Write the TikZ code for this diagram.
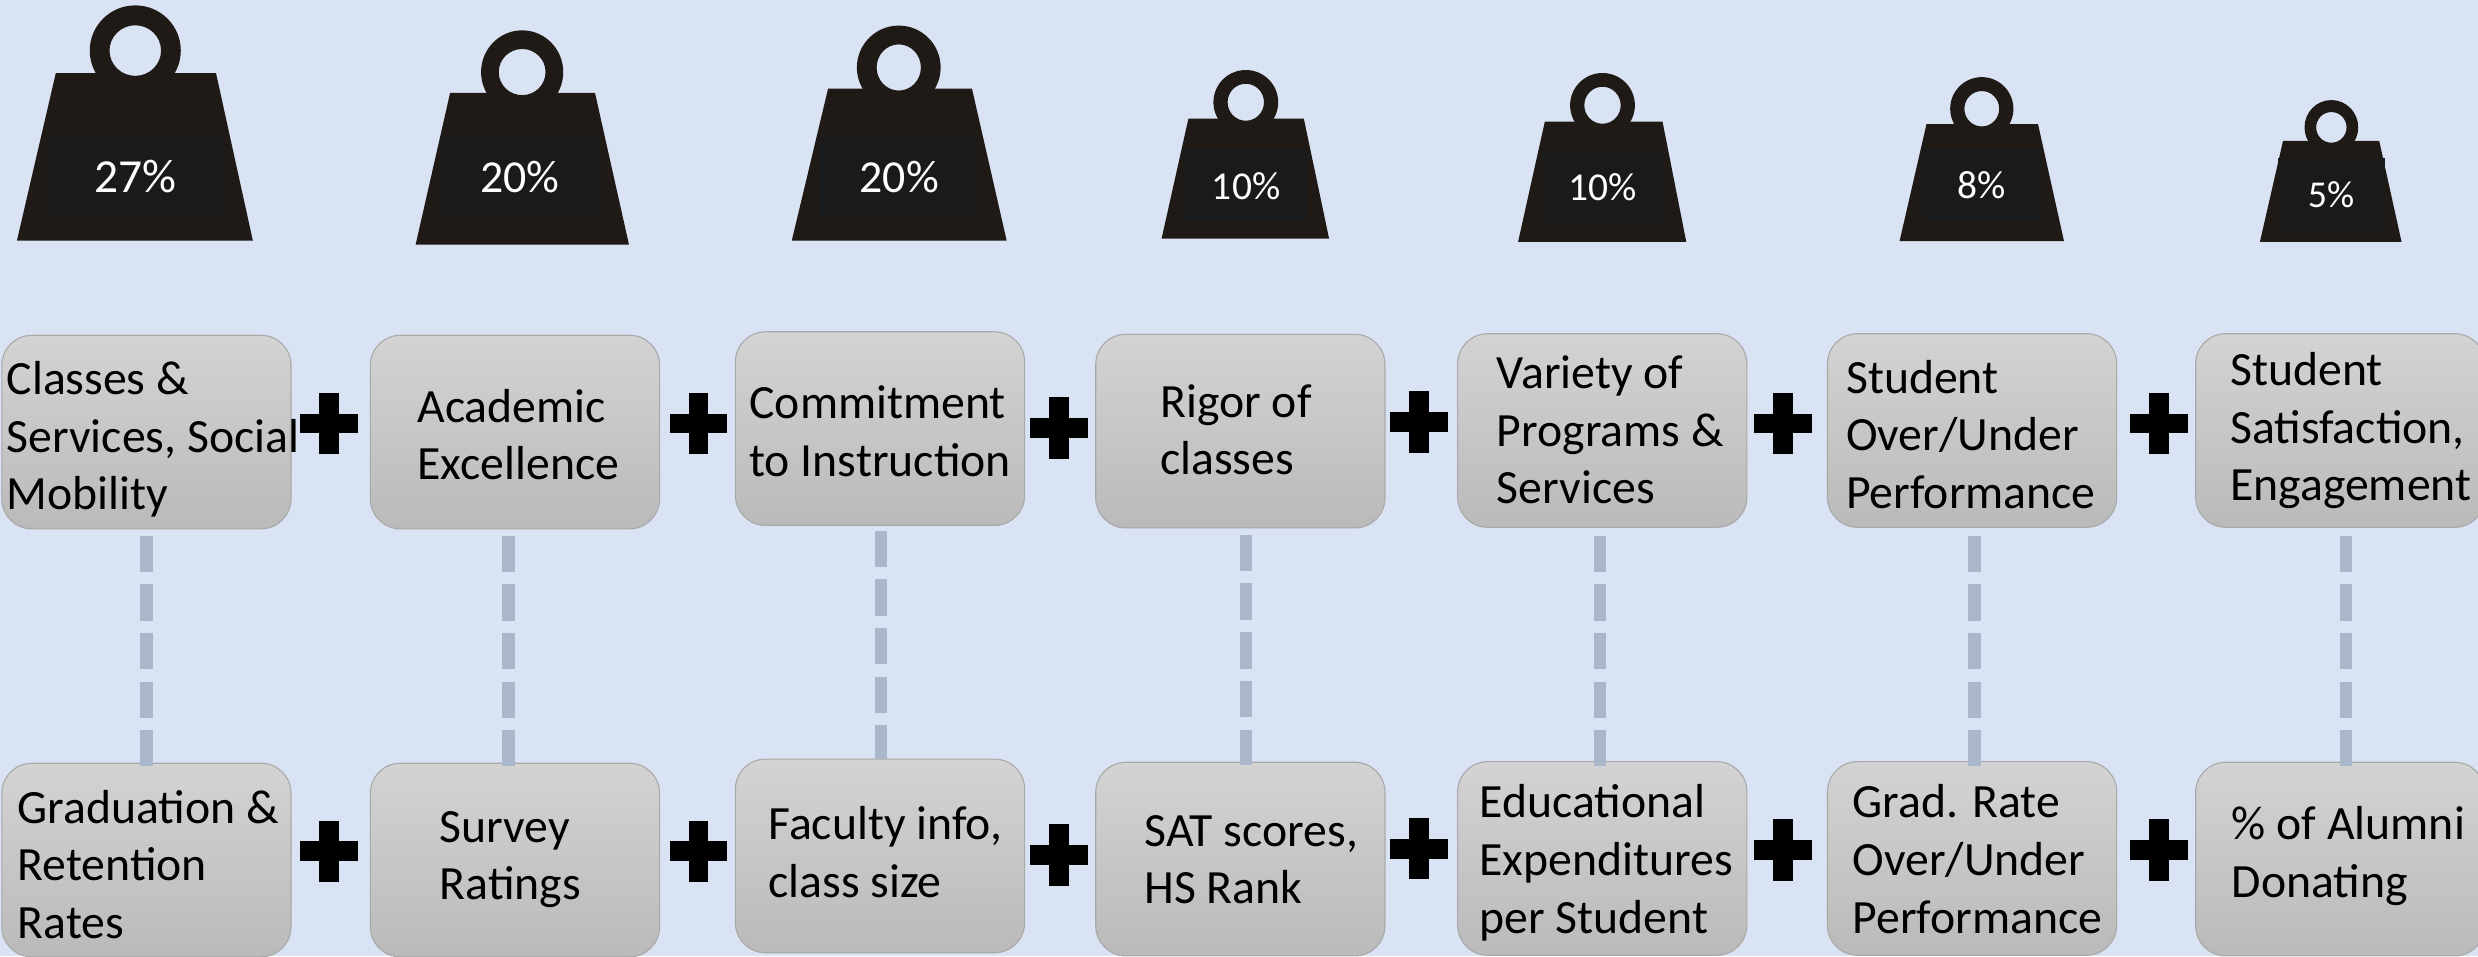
\documentclass[tikz,border=0pt]{standalone}
\usepackage{fontspec}
\setmainfont{Carlito}
\definecolor{pagebg}{HTML}{DAE3F3}
\definecolor{weightbody}{HTML}{201A17}
\definecolor{weightlabel}{HTML}{1A1A1A}
\definecolor{dashcol}{HTML}{AAB7CB}
\definecolor{boxedge}{HTML}{A9A9A9}
\definecolor{boxtop}{HTML}{D3D3D3}
\definecolor{boxbot}{HTML}{BABABA}
\tikzset{
  x=1pt,y=-1pt,
  card/.style={draw=boxedge,line width=0.7pt,rounded corners=19pt,top color=boxtop,bottom color=boxbot,minimum width=183pt,minimum height=122.5pt,inner sep=0pt,anchor=north west},
  cardtext/.style={anchor=west,align=left,inner sep=0pt,font=\fontsize{30.2}{36.5}\selectfont,text=black},
  pct/.style={text=white,inner sep=0pt,font=\fontsize{#1}{#1}\selectfont},
  link/.style={draw=dashcol,line width=8pt,dash pattern=on 23pt off 7.8pt},
  plusbar/.style={fill=black,draw=none},
}
\newcommand{\plussign}[2]{%
  \fill[plusbar] (#1-18.3,#2-6.3) rectangle (#1+18.3,#2+6.3);
  \fill[plusbar] (#1-6.3,#2-19.5) rectangle (#1+6.3,#2+19.5);
}
% base l, base r, top l, top r, top y, bottom y, ring cx, cy, rx, ry, inner rx, ry, lab l, lab t, lab r, lab b
\newcommand{\weightshape}[9]{%
  \def\wgA{#1}\def\wgB{#2}\def\wgC{#3}\def\wgD{#4}\def\wgE{#5}\def\wgF{#6}\def\wgG{#7}\def\wgH{#8}\def\wgI{#9}\weightshapeb}
\newcommand{\weightshapeb}[7]{%
  \fill[weightbody,even odd rule] (\wgG,\wgH) ellipse [x radius=\wgI,y radius=#1] (\wgG,\wgH) ellipse [x radius=#2,y radius=#3];
  \fill[weightbody] (\wgA,\wgF) -- (\wgC,\wgE) -- (\wgG-#2,\wgE) -- (\wgG-#2+2,\wgE+2) -- (\wgG+#2-2,\wgE+2) -- (\wgG+#2,\wgE) -- (\wgD,\wgE) -- (\wgB,\wgF) -- cycle;
  \fill[weightlabel] (#4,#5) rectangle (#6,#7);
}
\begin{document}
\begin{tikzpicture}
\useasboundingbox (0,0) rectangle (1568,605);
\clip (0,0) rectangle (1568,605);
\fill[pagebg] (0,0) rectangle (1568,605);

\weightshape{10.7}{160}{35.3}{136.7}{46.3}{152.3}{85.6}{32}{28.8}{28.6}{16.3}{16}{29.7}{87}{141.8}{136.5}
\node[pct=30] (p1) at (85.5,112) {27\%};
\weightshape{263}{398}{284.8}{376.5}{58.8}{154.8}{330.4}{45.6}{26}{26.4}{14.8}{14.6}{279}{87}{379}{135.7}
\node[pct=29] (p2) at (329,112) {20\%};
\weightshape{501}{637}{524}{615}{56}{152.3}{568.7}{42.7}{26.5}{26.5}{14}{14.6}{518}{86.5}{619}{137}
\node[pct=29] (p3) at (569,112) {20\%};
\weightshape{735}{841}{752}{825}{75}{151}{788.3}{64.7}{20.5}{20.4}{11.5}{11.7}{748.6}{94}{827.6}{139.6}
\node[pct=25] (p4) at (788.5,118) {10\%};
\weightshape{960.6}{1067}{977.5}{1052}{77}{153}{1014}{66.6}{20.5}{20.4}{11.5}{11.7}{975.5}{95}{1053}{140.3}
\node[pct=25] (p5) at (1014,118.5) {10\%};
\weightshape{1202}{1306}{1219}{1289.6}{78.6}{152.5}{1254}{68.8}{20}{20}{11}{11.2}{1216}{94}{1292}{140}
\node[pct=25] (p6) at (1254,117) {8\%};
\weightshape{1430}{1519.6}{1444.6}{1505.5}{89.2}{153}{1475.2}{80.6}{17}{17.3}{9.6}{9.7}{1441.5}{99.8}{1509}{145.5}
\node[pct=24] (p7) at (1475,123) {5\%};

\node[card] (t1) at (0.8,211.8) {};
\node[card] (t2) at (234,211.8) {};
\node[card] (t3) at (465,209.6) {};
\node[card] (t4) at (693,211.2) {};
\node[card] (t5) at (922,210.8) {};
\node[card] (t6) at (1156,210.8) {};
\node[card] (t7) at (1389,210.8) {};
\node[card] (b1) at (0.8,482.6) {};
\node[card] (b2) at (234,482.6) {};
\node[card] (b3) at (465,480) {};
\node[card] (b4) at (693,482) {};
\node[card] (b5) at (922,481.6) {};
\node[card] (b6) at (1156,481.6) {};
\node[card] (b7) at (1389,482) {};

\draw[link] ([xshift=-0.1pt,yshift=-4pt]t1.south) -- ([xshift=-0.1pt,yshift=-2pt]b1.north);
\draw[link] ([xshift=-4pt,yshift=-4pt]t2.south) -- ([xshift=-4pt,yshift=-2pt]b2.north);
\draw[link] ([xshift=0.5pt,yshift=-3pt]t3.south) -- ([xshift=0.5pt,yshift=0pt]b3.north);
\draw[link] ([xshift=3.5pt,yshift=-4pt]t4.south) -- ([xshift=3.5pt,yshift=-2pt]b4.north);
\draw[link] ([xshift=-1.5pt,yshift=-5pt]t5.south) -- ([xshift=-1.5pt,yshift=-3pt]b5.north);
\draw[link] ([xshift=1.5pt,yshift=-5pt]t6.south) -- ([xshift=1.5pt,yshift=-3pt]b6.north);
\draw[link] ([xshift=3.5pt,yshift=-5pt]t7.south) -- ([xshift=3.5pt,yshift=-3pt]b7.north);

\plussign{208.3}{268}\plussign{442}{268}\plussign{670}{271}\plussign{898}{267}\plussign{1128}{268}\plussign{1366}{268}
\plussign{208.3}{538.7}\plussign{442}{538.7}\plussign{670}{541}\plussign{898}{537}\plussign{1128}{538}\plussign{1366}{538}

\node[cardtext] (n1) at (4,278) {Classes \&\\Services, Social\\Mobility};
\node[cardtext] (n2) at (264,275) {Academic\\Excellence};
\node[cardtext] (n3) at (474,273) {Commitment\\to Instruction};
\node[cardtext] (n4) at (734,272) {Rigor of\\classes};
\node[cardtext] (n5) at (947,272) {Variety of\\Programs \&\\Services};
\node[cardtext] (n6) at (1168,275) {Student\\Over/Under\\Performance};
\node[cardtext] (n7) at (1411,272.5) {Student\\Satisfaction,\\Engagement};
\node[cardtext] (m1) at (11,547) {Graduation \&\\Retention\\Rates};
\node[cardtext] (m2) at (278,544) {Survey\\Ratings};
\node[cardtext] (m3) at (486,539) {Faculty info,\\class size};
\node[cardtext] (m4) at (724,544) {SAT scores,\\HS Rank};
\node[cardtext] (m5) at (936,546) {Educational\\Expenditures\\per Student};
\node[cardtext] (m6) at (1172,543.5) {Grad. Rate\\Over/Under\\Performance};
\node[cardtext] (m7) at (1412,541.5) {\% of Alumni\\Donating};
\end{tikzpicture}
\end{document}
